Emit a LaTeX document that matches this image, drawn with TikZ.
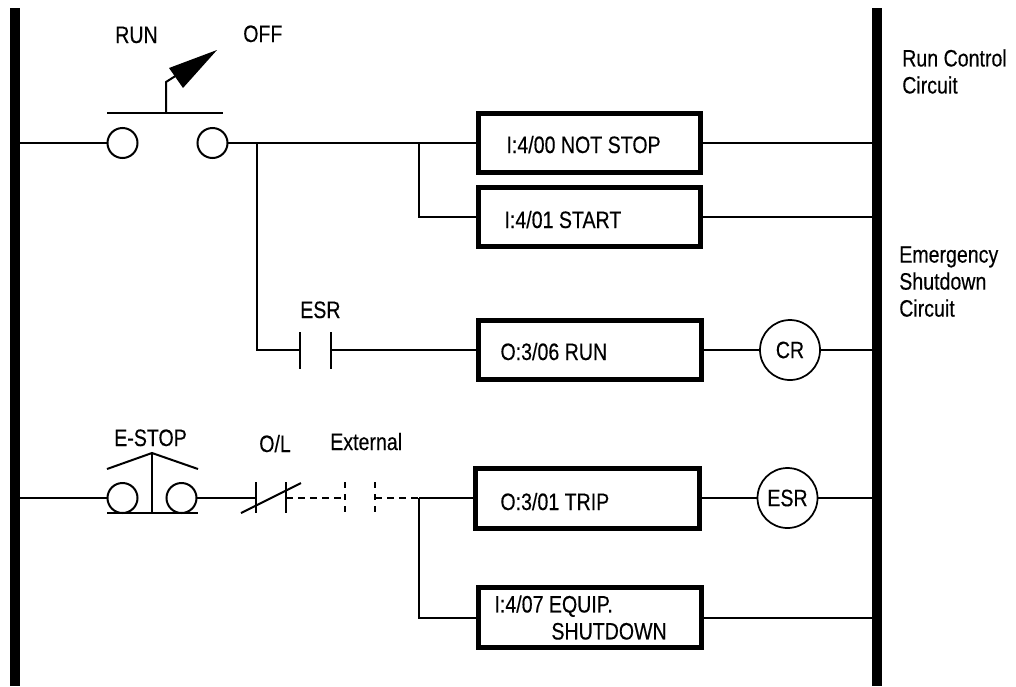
\documentclass[tikz,border=0pt]{standalone}
\usepackage{fontspec}
\setmainfont[FakeStretch=0.825,FakeBold=0.3,WordSpace=1.0]{Liberation Sans}
\begin{document}
\begin{tikzpicture}[x=0.75pt,y=-0.75pt,
  txt/.style={font=\fontsize{17.8pt}{20.25pt}\selectfont},
  wire/.style={line width=1.5pt,line cap=butt},
  dash wire/.style={line width=1.5pt,dash pattern=on 5.25pt off 3.75pt},
  dash bar/.style={line width=1.5pt,dash pattern=on 4.5pt off 4.5pt},
  rail/.style={fill=black,draw=none,inner sep=0pt,outer sep=0pt,minimum width=7.5pt,minimum height=508.5pt},
  contact/.style={circle,draw,line width=1.5pt,minimum size=22.5pt,inner sep=0pt,outer sep=0pt},
  coil/.style={circle,draw,line width=1.3pt,minimum size=45pt,inner sep=0pt,outer sep=0pt,txt},
  io/.style={draw,line width=3.75pt,minimum height=44.25pt,inner sep=0pt,outer sep=0pt,minimum width=166.5pt,text width=166.5pt,align=flush left,txt},
  lab/.style={inner sep=0pt,anchor=base west,txt},
  side/.style={inner sep=0pt,anchor=north west,align=left,txt}]
\useasboundingbox (0,0) rectangle (1016,686);
% rails
\node[rail] (lrail) at (15,347) {};
\node[rail] (rrail) at (877,347) {};
% boxes
\node[io,text depth=0pt,text height=15pt] (notstop) at (589.5,143) {\hspace*{21pt}I:4/00 NOT STOP};
\node[io,text depth=0pt,text height=16.5pt] (start) at (589.5,217) {\hspace*{19.5pt}I:4/01 START};
\node[io,text depth=0pt,text height=15pt,minimum width=167.25pt,text width=167.25pt] (run) at (590,350) {\hspace*{16.5pt}O:3/06 RUN};
\node[io,text depth=0pt,text height=18pt,minimum width=168pt,text width=168pt,minimum height=45pt] (trip) at (587.5,498) {\hspace*{18.7pt}O:3/01 TRIP};
\node[io,minimum width=167.25pt,text width=167.25pt,minimum height=45pt] (equip) at (590,617.5) {\hspace*{12pt}I:4/07 EQUIP.\\\hspace*{54.7pt}SHUTDOWN};
% coils
\node[coil] (cr) at (790,350) {CR};
\node[coil] (esr) at (787.5,498) {ESR};
% RUN selector
\node[contact] (c1) at (122.5,143) {};
\node[contact] (c2) at (212.5,143) {};
\coordinate (barl) at (107,113);
\coordinate (barr) at (223,113);
\coordinate (stem) at (166,113);
\coordinate (stemtop) at (166,82);
\coordinate (stemend) at (177,75);
\coordinate (j1) at (257,143);
\coordinate (j2) at (419,143);
\draw[wire] (barl) -- (barr);
\draw[wire,line join=miter] (stem) -- (stemtop) -- (stemend);
\fill (217,50) -- (169,68) -- (183,88) -- cycle;
\draw[wire] (c1.west) -- (c1.west -| lrail.east);
\draw[wire] (c2.east) -- (notstop.west);
\draw[wire] (j2) |- (start.west);
\draw[wire] (notstop.east) -- (notstop.east -| rrail.west);
\draw[wire] (start.east) -- (start.east -| rrail.west);
% ESR contact
\coordinate (e1) at (300,350);
\coordinate (e2) at (331,350);
\draw[wire] (j1) |- (e1);
\draw[wire] (300,332) -- (300,369);
\draw[wire] (331,332) -- (331,369);
\draw[wire] (e2) -- (run.west);
\draw[wire] (run.east) -- (cr.west);
\draw[wire] (cr.east) -- (cr.east -| rrail.west);
% E-STOP
\node[contact] (s1) at (122.5,498) {};
\node[contact] (s2) at (181.5,498) {};
\draw[wire] (s1.west) -- (s1.west -| lrail.east);
\coordinate (sbl) at (107,513);
\coordinate (sbr) at (198,513);
\coordinate (roof) at (152,453);
\draw[wire] (sbl) -- (sbr);
\draw[wire] (roof |- sbl) -- (roof);
\draw[wire] (107,469) -- (roof) -- (198,469);
% O/L
\coordinate (o1) at (256,498);
\coordinate (o2) at (286,498);
\draw[wire] (s2.east) -- (o1);
\draw[wire] (256,482) -- (256,513);
\draw[wire] (286,482) -- (286,513);
\draw[wire] (241,513) -- (301,483);
% External
\coordinate (x1) at (345,498);
\coordinate (x2) at (375,498);
\coordinate (j3) at (419,498);
\draw[dash wire] (o2) -- (x1);
\draw[dash wire] (x2) -- (j3);
\draw[dash bar] (345,482) -- (345,514);
\draw[dash bar] (375,482) -- (375,514);
\draw[wire] (j3) -- (trip.west);
\draw[wire] (j3) |- (equip.west);
\draw[wire] (trip.east) -- (esr.west);
\draw[wire] (esr.east) -- (esr.east -| rrail.west);
\draw[wire] (equip.east) -- (equip.east -| rrail.west);
% labels
\node[lab] (lrun) at (115,43) {RUN};
\node[lab] (loff) at (243,42) {OFF};
\node[lab] (lesr) at (300,318) {ESR};
\node[lab] (lestop) at (114,446) {E-STOP};
\node[lab] (lol) at (259,452) {O/L};
\node[lab] (lext) at (330,450) {External};
\node[side] (sr) at (902,49) {Run Control\\Circuit};
\node[side] (se) at (899,246) {Emergency\\Shutdown\\Circuit};
\end{tikzpicture}
\end{document}
